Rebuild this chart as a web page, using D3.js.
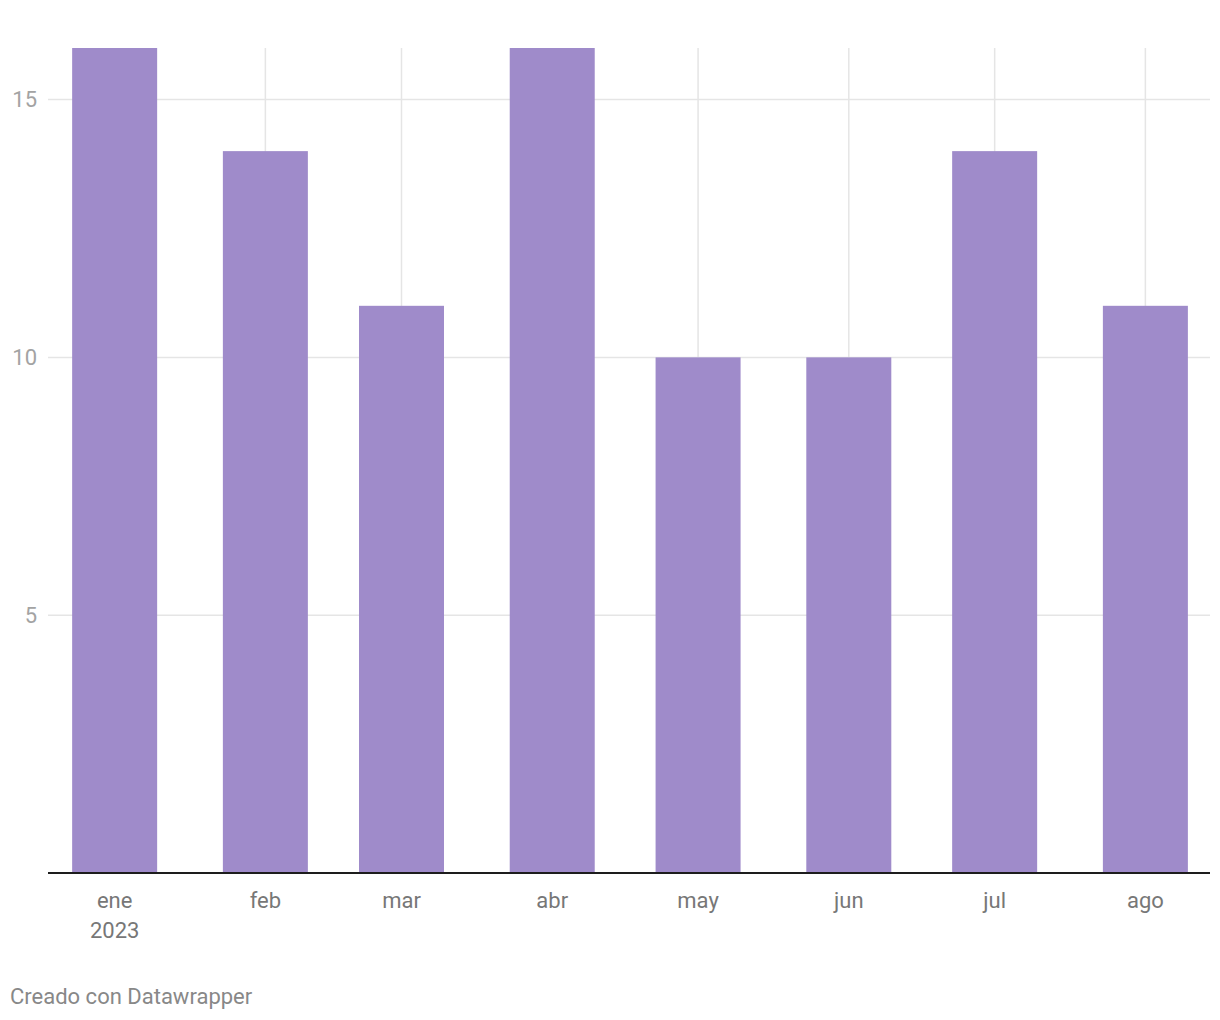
<!DOCTYPE html>
<html>
<head>
<meta charset="utf-8">
<script src="https://cdn.jsdelivr.net/npm/d3@7"></script>
<style>
  html, body { margin: 0; padding: 0; background: #fff; }
  svg { display: block; font-family: Roboto, "Noto Sans", sans-serif; }
</style>
</head>
<body>
<svg id="chart" width="1220" height="1020"></svg>
<script>
const months = ["2023-01-01","2023-02-01","2023-03-01","2023-04-01","2023-05-01","2023-06-01","2023-07-01","2023-08-01"];
const monthLabels = ["ene","feb","mar","abr","may","jun","jul","ago"];
const values = [16, 14, 11, 16, 10, 10, 14, 11];
const yTicks = [5, 10, 15];
const yDomain = [0, 16];
const footer = "Creado con Datawrapper";

const M = { left: 48, right: 1210, top: 48, bottom: 873 };
const svg = d3.select("#chart");

const parse = d3.utcParse("%Y-%m-%d");
const dates = months.map(parse);
const x = d3.scaleUtc()
  .domain([d3.utcHour.offset(dates[0], -13.7 * 24), d3.utcHour.offset(dates[dates.length - 1], 13.3 * 24)])
  .range([M.left, M.right]);
const y = d3.scaleLinear().domain(yDomain).range([M.bottom, M.top]);

const barW = 85;

// horizontal grid
svg.append("g").selectAll("line").data(yTicks).join("line")
  .attr("x1", M.left).attr("x2", M.right)
  .attr("y1", d => y(d)).attr("y2", d => y(d))
  .attr("stroke", "#e5e5e5").attr("stroke-width", 1.5);

// vertical grid
svg.append("g").selectAll("line").data(dates).join("line")
  .attr("x1", d => x(d)).attr("x2", d => x(d))
  .attr("y1", M.top).attr("y2", M.bottom)
  .attr("stroke", "#e5e5e5").attr("stroke-width", 1.5);

// y labels
svg.append("g").selectAll("text").data(yTicks).join("text")
  .attr("x", 37).attr("y", d => y(d))
  .attr("dy", "0.35em")
  .attr("text-anchor", "end")
  .attr("fill", "#a3a3a3")
  .attr("font-size", 22)
  .text(d => d);

// bars
svg.append("g").selectAll("rect").data(values).join("rect")
  .attr("x", (d, i) => x(dates[i]) - barW / 2)
  .attr("width", barW)
  .attr("y", d => y(d))
  .attr("height", d => y(0) - y(d))
  .attr("fill", "#9f8bca");

// baseline
svg.append("line")
  .attr("x1", M.left).attr("x2", M.right)
  .attr("y1", y(0)).attr("y2", y(0))
  .attr("stroke", "#1d1d1d").attr("stroke-width", 2);

// x labels
const xl = svg.append("g").selectAll("text").data(monthLabels).join("text")
  .attr("x", (d, i) => x(dates[i]))
  .attr("y", 908)
  .attr("text-anchor", "middle")
  .attr("fill", "#777")
  .attr("font-size", 22);
xl.append("tspan").attr("x", (d, i) => x(dates[i])).text(d => d);
xl.filter((d, i) => i === 0).append("tspan")
  .attr("x", x(dates[0]))
  .attr("dy", 30)
  .text(d3.utcFormat("%Y")(dates[0]));

// footer
svg.append("text")
  .attr("x", 10).attr("y", 1004)
  .attr("fill", "#888")
  .attr("font-size", 22)
  .text(footer);
</script>
</body>
</html>
